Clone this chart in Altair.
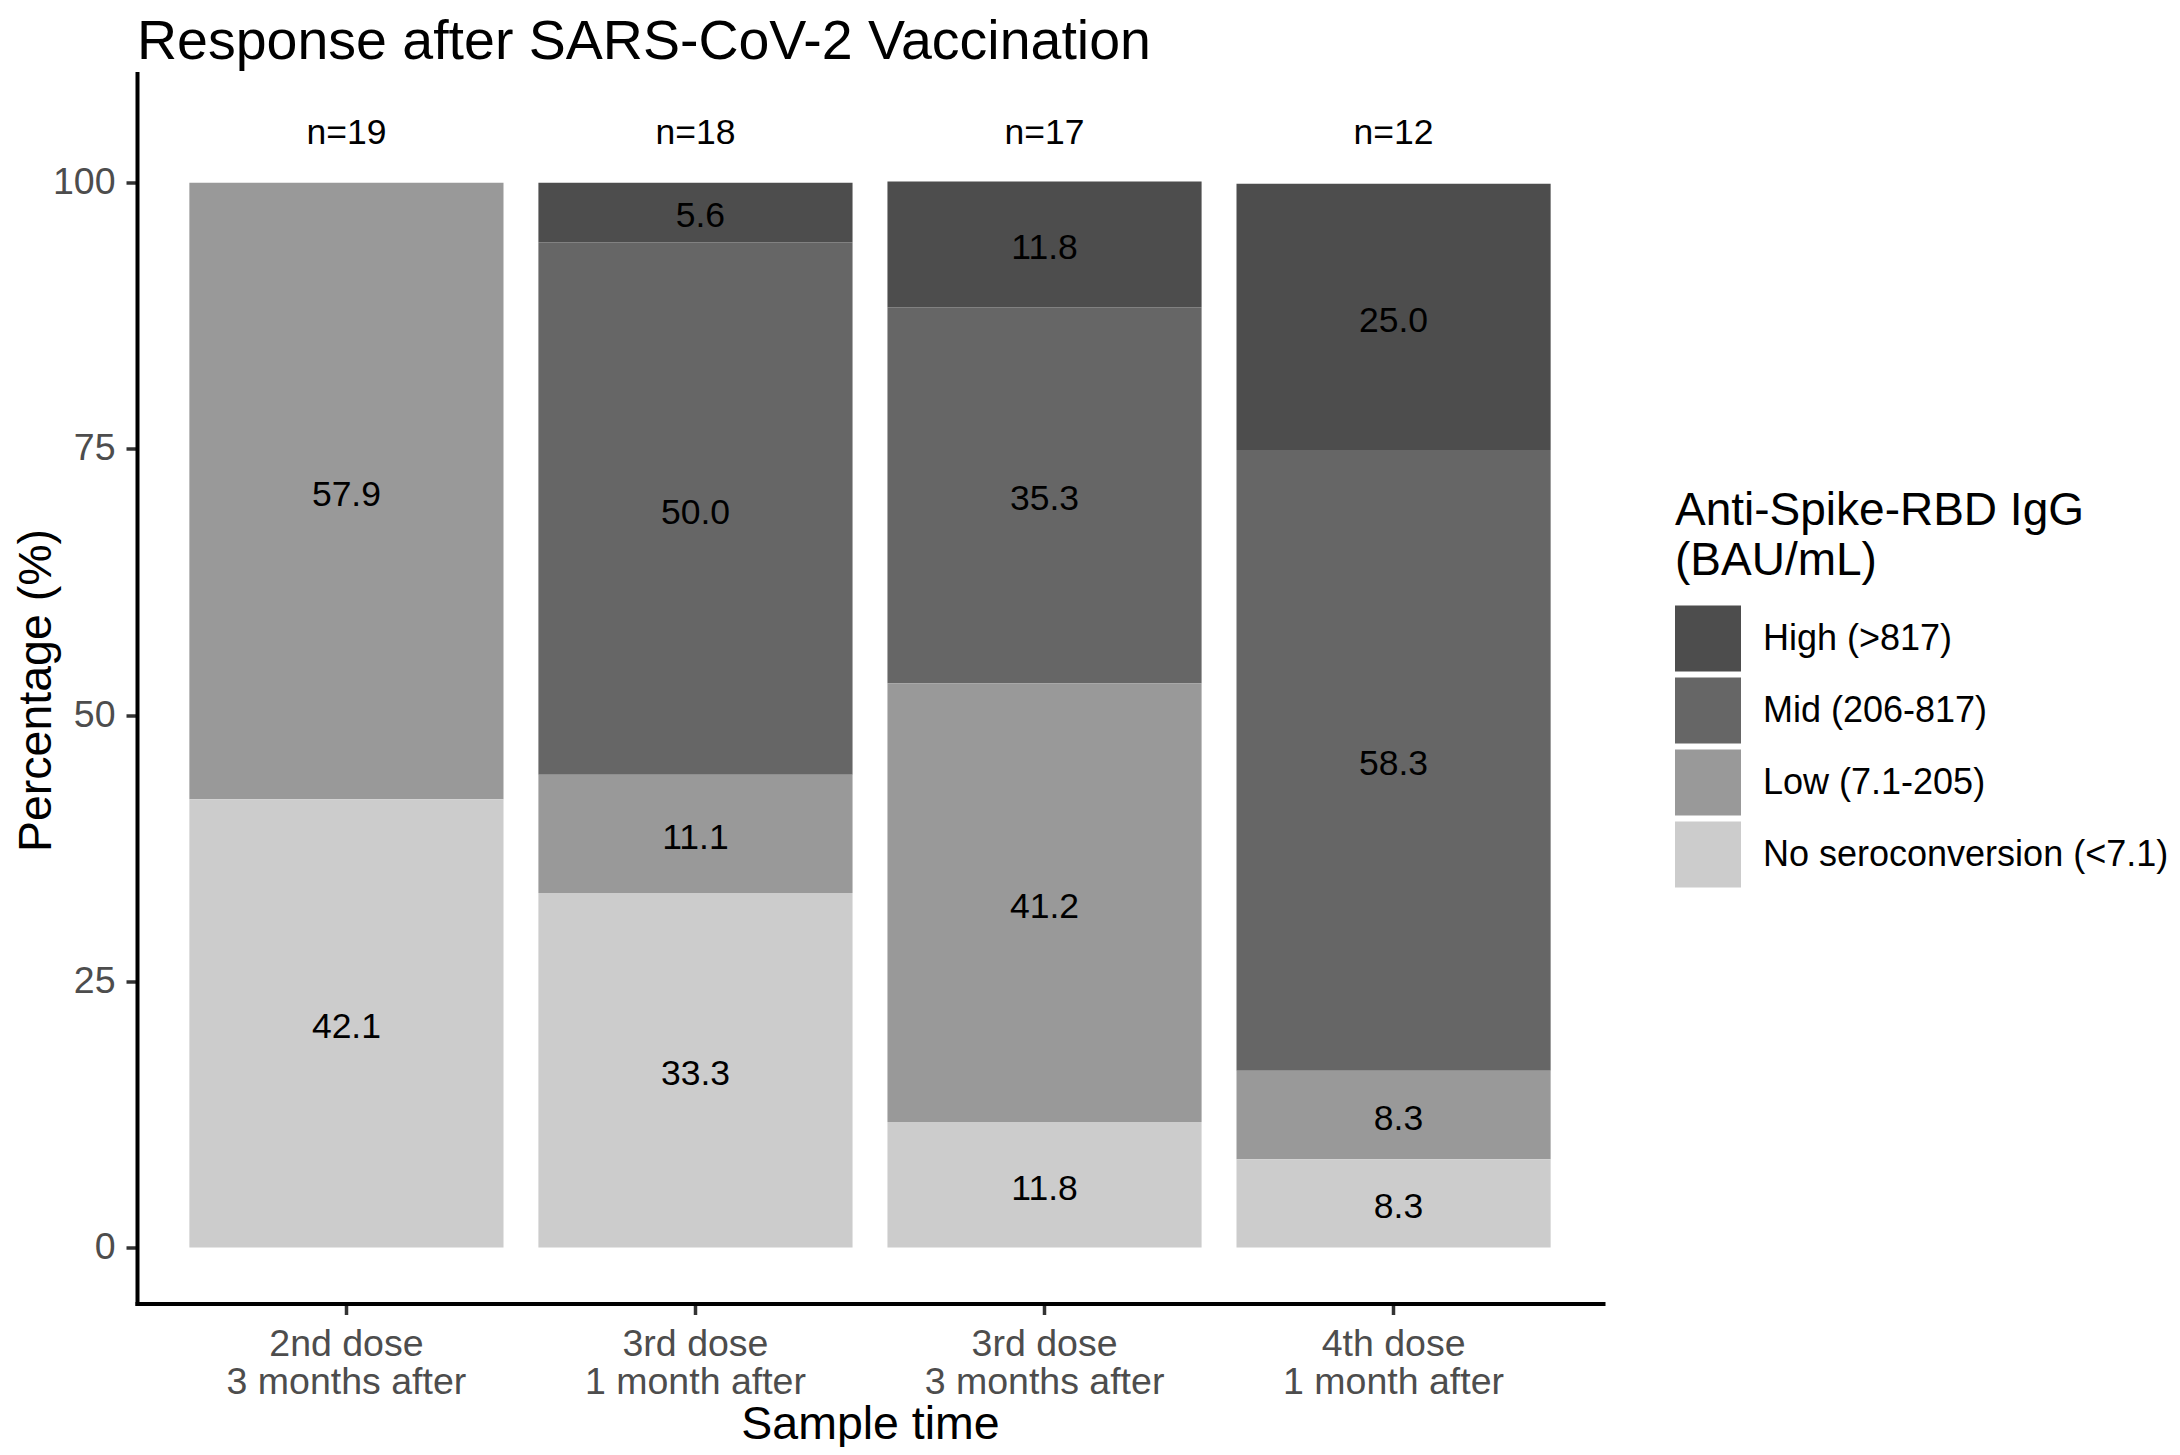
import altair as alt
import pandas as pd

FONT = "Liberation Sans"

# ---- data ----
times = [
    "2nd dose\n3 months after",
    "3rd dose\n1 month after",
    "3rd dose\n3 months after",
    "4th dose\n1 month after",
]
n_counts = [19, 18, 17, 12]
levels = ["High (>817)", "Mid (206-817)", "Low (7.1-205)", "No seroconversion (<7.1)"]
colors = ["#4d4d4d", "#666666", "#999999", "#cccccc"]

pct_high = [0.0, 5.6, 11.8, 25.0]
pct_mid = [0.0, 50.0, 35.3, 58.3]
pct_low = [57.9, 11.1, 41.2, 8.3]
pct_none = [42.1, 33.3, 11.8, 8.3]

series = [pct_high, pct_mid, pct_low, pct_none]

rows = []
for li, (lev, vals) in enumerate(zip(levels, series)):
    for t, v in zip(times, vals):
        if v > 0:
            # labels formatted to width 4 (as in the source figure: " 5.6", " 8.3")
            txt = f"{v:4.1f}"
            if txt.startswith(" "):
                txt = "\u200b" + txt.replace(" ", "\u00a0")
            rows.append({
                "time": t,
                "level": lev,
                "pct": v,
                "ord": len(levels) - 1 - li,
                "label": txt,
            })
df = pd.DataFrame(rows)

ndf = pd.DataFrame({"time": times, "nlab": [f"n={n}" for n in n_counts]})

x_enc = alt.X(
    "time:N",
    sort=times,
    scale=alt.Scale(paddingInner=0.1, paddingOuter=0.15),
    axis=alt.Axis(
        title="Sample time",
        titleFont=FONT, titleFontSize=46.5, titleFontWeight="normal", titleColor="black",
        titleBaseline="alphabetic", titleY=134.5, titleX=733, titleAlign="center",
        labelExpr="split(datum.label, '\\n')",
        labelFont=FONT, labelFontSize=37.5, labelColor="#4d4d4d", labelLineHeight=38,
        labelAngle=0, labelPadding=11, labelBaseline="top", labelLimit=1000,
        tickSize=11, tickWidth=3.5, tickColor="#333333",
        domainColor="black", domainWidth=4, domainCap="square", grid=False,
    ),
)

y_scale = alt.Scale(domain=[-5.25, 110.25], nice=False, zero=False)

base = alt.Chart(df).transform_stack(
    stack="pct", groupby=["time"], as_=["y0", "y1"],
    sort=[alt.SortField("ord", order="ascending")],
).transform_calculate(ymid="(datum.y0 + datum.y1) / 2")

bars = base.mark_bar(strokeWidth=0).encode(
    x=x_enc,
    y=alt.Y(
        "y0:Q", scale=y_scale,
        axis=alt.Axis(
            title="Percentage (%)", values=[0, 25, 50, 75, 100],
            titleFont=FONT, titleFontSize=46.5, titleFontWeight="normal", titleColor="black",
            titleAngle=270, titleBaseline="alphabetic", titleAlign="center",
            titleX=-86.5, titleY=616.5, titleLimit=1000,
            labelFont=FONT, labelFontSize=37.5, labelColor="#4d4d4d", labelPadding=11,
            tickSize=11, tickWidth=3.5, tickColor="#333333",
            domainColor="black", domainWidth=4, domainCap="square", grid=False,
        ),
    ),
    y2="y1:Q",
    color=alt.Color(
        "level:N",
        scale=alt.Scale(domain=levels, range=colors),
        legend=alt.Legend(
            title=["Anti-Spike-RBD IgG", "(BAU/mL)"],
            orient="none", legendX=1538, legendY=415.8, direction="vertical",
            titleFont=FONT, titleFontSize=46, titleFontWeight="normal", titleColor="black",
            titleLineHeight=50, titlePadding=20.2, titleLimit=1000,
            labelFont=FONT, labelFontSize=36, labelColor="black", labelOffset=22, labelLimit=1000,
            symbolType="square", symbolSize=4356,
            symbolStrokeWidth=0, symbolOpacity=1, rowPadding=6, padding=0,
        ),
    ),
)

labels = base.mark_text(font=FONT, fontSize=35.5, color="black", baseline="middle", dy=4).encode(
    x=x_enc,
    y=alt.Y("ymid:Q", scale=y_scale),
    text="label:N",
)

ntext = alt.Chart(ndf).mark_text(font=FONT, fontSize=35.5, color="black", baseline="middle", dy=3.5).encode(
    x=x_enc,
    y=alt.datum(105, scale=y_scale),
    text="nlab:N",
)

chart = alt.layer(bars, labels, ntext).properties(
    width=1466,
    height=1230,
    background="white",
    autosize=alt.AutoSizeParams(type="none"),
    padding={"left": 129, "top": 65.5, "right": 569, "bottom": 143.5},
    title=alt.Title(
        "Response after SARS-CoV-2 Vaccination",
        anchor="start", frame="group", font=FONT, fontSize=55.5, fontWeight="normal",
        color="black", baseline="top", offset=3.5,
    ),
).configure_view(stroke=None)

chart.save("out.html", embed_options={"renderer": "svg", "actions": False})
